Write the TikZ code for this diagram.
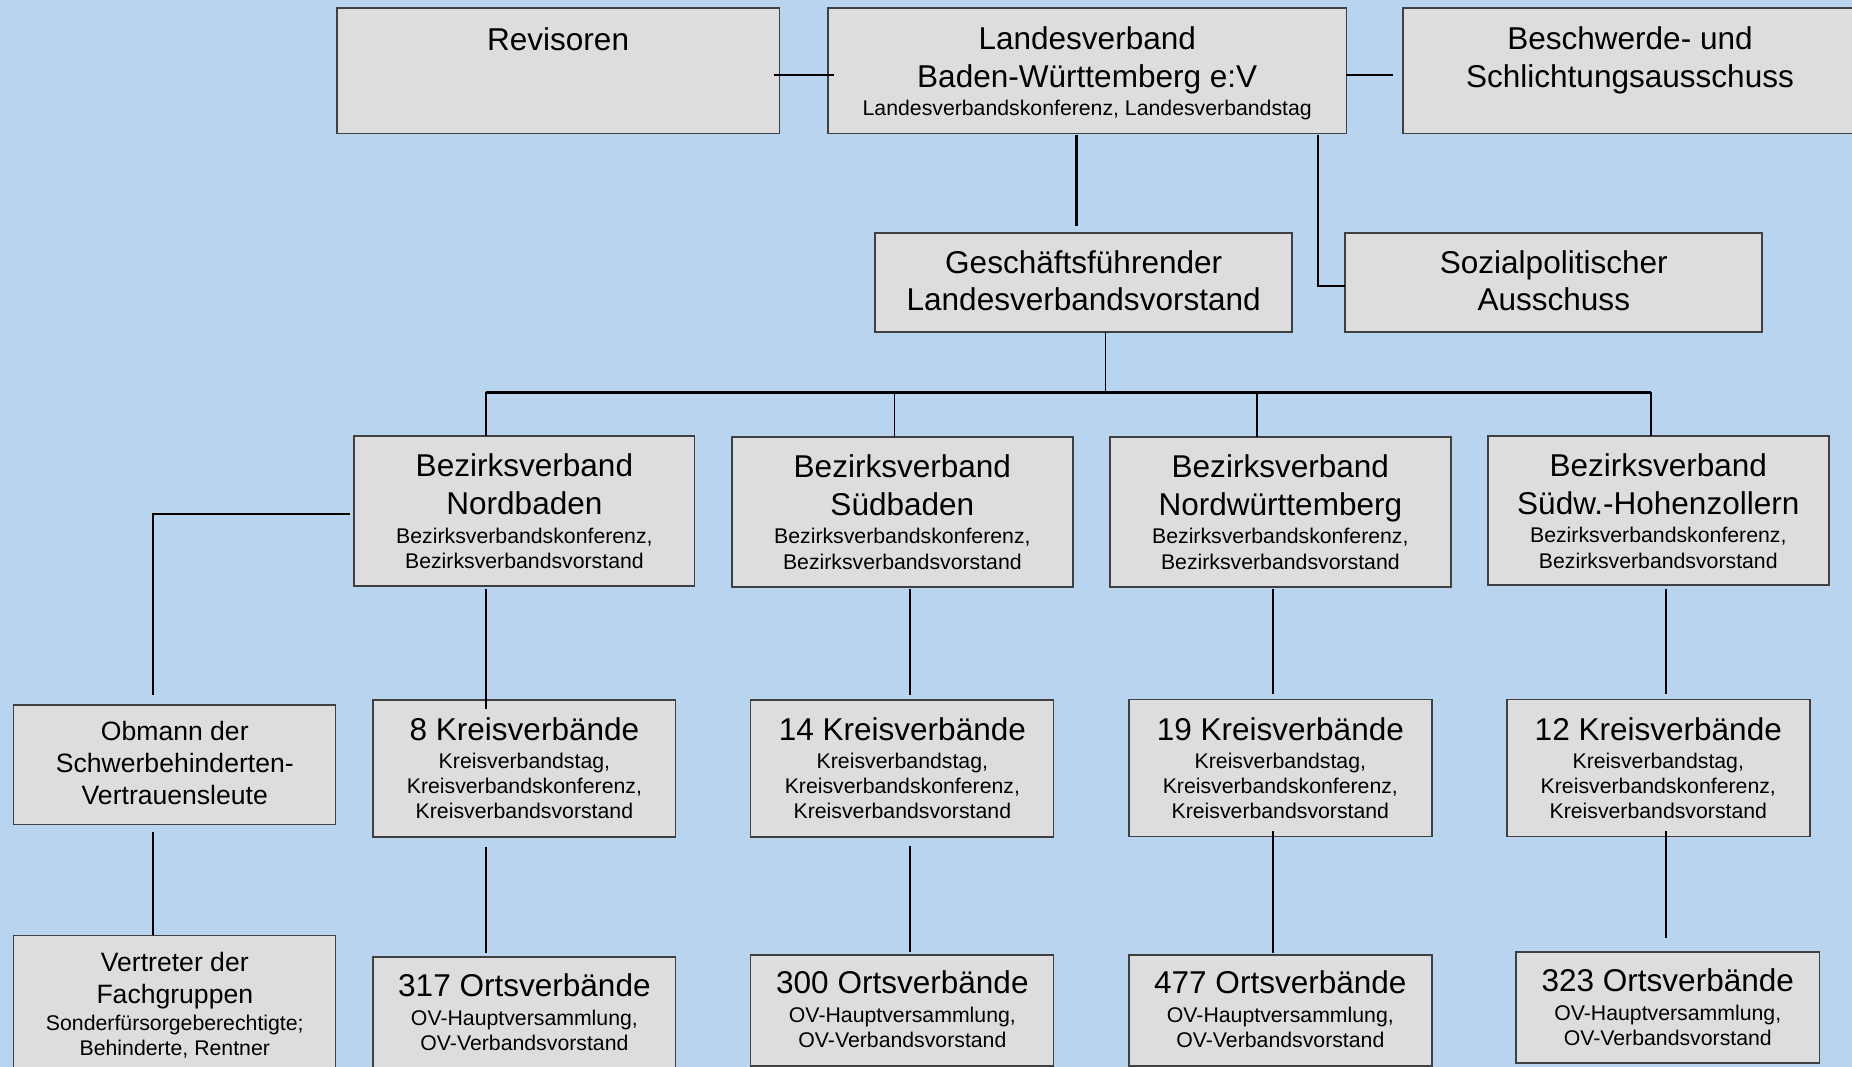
\documentclass[tikz,border=0pt]{standalone}
\usepackage{fontspec}
\setmainfont{Liberation Sans}
\definecolor{bgblue}{HTML}{B9D4EE}
\definecolor{boxfill}{HTML}{DDDDDD}
\definecolor{boxline}{HTML}{404040}
\newcommand\smf{\fontsize{18}{21.5}\selectfont}
\newcommand\mdf{\fontsize{22.5}{27}\selectfont}
\newcommand\bgf{\fontsize{26.7}{32}\selectfont}
\newcommand\fl{\rule{0pt}{20pt}}
\begin{document}
\begin{tikzpicture}[x=1pt,y=-1pt,
  box/.style={draw=boxline, fill=boxfill, line width=1.5pt, rectangle, inner sep=0pt, outer sep=0pt, anchor=north west},
  txt/.style={inner sep=0pt, anchor=north, align=center, font=\bgf, text=black},
  mtxt/.style={txt, font=\mdf},
  conn/.style={line width=1.6pt, black},
  thickconn/.style={line width=2.3pt, black},
  bus/.style={line width=1.9pt, black}]
\useasboundingbox (0,0) rectangle (1568,903);
\clip (0,0) rectangle (1568,903);
\fill[bgblue] (0,0) rectangle (1568,903);

% ---------- boxes ----------
\node[box, minimum width=375pt, minimum height=106pt] (rev) at (285,7) {};
\node[box, minimum width=439pt, minimum height=106pt] (lv) at (701,7) {};
\node[box, minimum width=387pt, minimum height=106pt] (bs) at (1188,7) {};
\node[box, minimum width=353pt, minimum height=84pt] (gf) at (741,197) {};
\node[box, minimum width=353pt, minimum height=84pt] (sp) at (1139,197) {};

\node[box, minimum width=288.5pt, minimum height=127pt] (bnb) at (299.5,369) {};
\node[box, minimum width=288.5pt, minimum height=127pt] (bsb) at (620,370) {};
\node[box, minimum width=288.5pt, minimum height=127pt] (bnw) at (940,370) {};
\node[box, minimum width=288.5pt, minimum height=126pt] (bsh) at (1260,369) {};

\node[box, minimum width=272.5pt, minimum height=101pt] (ob) at (11.5,597) {};
\node[box, minimum width=272.5pt, minimum height=150pt] (vt) at (11.5,792) {};

\node[box, minimum width=256.5pt, minimum height=116pt] (kv8) at (315.5,592.5) {};
\node[box, minimum width=256.5pt, minimum height=116pt] (kv14) at (635.5,592.5) {};
\node[box, minimum width=256.5pt, minimum height=116pt] (kv19) at (955.7,592.3) {};
\node[box, minimum width=256.5pt, minimum height=116pt] (kv12) at (1275.7,592.3) {};

\node[box, minimum width=256.5pt, minimum height=96pt] (ov317) at (315.5,810) {};
\node[box, minimum width=256.5pt, minimum height=94pt] (ov300) at (635.5,808.5) {};
\node[box, minimum width=256.5pt, minimum height=94pt] (ov477) at (955.7,808.5) {};
\node[box, minimum width=257pt, minimum height=94.5pt] (ov323) at (1283.4,805.8) {};

% ---------- texts ----------
\node[txt] (t-rev) at (472.5,22.3) {\fl Revisoren};
\node[txt] (t-lv) at (920.5,21.8) {\fl Landesverband\\Baden-Württemberg e:V\\[-8.5pt]{\smf Landesverbandskonferenz, Landesverbandstag}};
\node[txt] (t-bs) at (1380,21.8) {\fl Beschwerde- und\\Schlichtungsausschuss};
\node[txt] (t-gf) at (917.5,211) {\fl Geschäftsführender\\Landesverbandsvorstand};
\node[txt] (t-sp) at (1315.5,211) {\fl Sozialpolitischer\\Ausschuss};

\node[txt] (t-bnb) at (444,383.6) {\fl Bezirksverband\\Nordbaden\\[-8pt]{\smf Bezirksverbandskonferenz,}\\[-10.3pt]{\smf Bezirksverbandsvorstand}};
\node[txt] (t-bsb) at (764,384.1) {\fl Bezirksverband\\Südbaden\\[-8pt]{\smf Bezirksverbandskonferenz,}\\[-10.3pt]{\smf Bezirksverbandsvorstand}};
\node[txt] (t-bnw) at (1084,384.1) {\fl Bezirksverband\\Nordwürttemberg\\[-8pt]{\smf Bezirksverbandskonferenz,}\\[-10.3pt]{\smf Bezirksverbandsvorstand}};
\node[txt] (t-bsh) at (1404,383.1) {\fl Bezirksverband\\Südw.-Hohenzollern\\[-8pt]{\smf Bezirksverbandskonferenz,}\\[-10.3pt]{\smf Bezirksverbandsvorstand}};

\node[mtxt] (t-ob) at (148,606.5) {\fl Obmann der\\Schwerbehinderten-\\Vertrauensleute};
\node[mtxt] (t-vt) at (148,802.2) {\fl Vertreter der\\Fachgruppen\\[-3.9pt]{\smf Sonderfürsorgeberechtigte;}\\[-5.9pt]{\smf Behinderte, Rentner}};

\node[txt] (t-kv8) at (444,606.5) {\fl 8 Kreisverbände\\[-8pt]{\smf Kreisverbandstag,}\\[-10.8pt]{\smf Kreisverbandskonferenz,}\\[-10.8pt]{\smf Kreisverbandsvorstand}};
\node[txt] (t-kv14) at (764,606.5) {\fl 14 Kreisverbände\\[-8pt]{\smf Kreisverbandstag,}\\[-10.8pt]{\smf Kreisverbandskonferenz,}\\[-10.8pt]{\smf Kreisverbandsvorstand}};
\node[txt] (t-kv19) at (1084,606.5) {\fl 19 Kreisverbände\\[-8pt]{\smf Kreisverbandstag,}\\[-10.8pt]{\smf Kreisverbandskonferenz,}\\[-10.8pt]{\smf Kreisverbandsvorstand}};
\node[txt] (t-kv12) at (1404,606.5) {\fl 12 Kreisverbände\\[-8pt]{\smf Kreisverbandstag,}\\[-10.8pt]{\smf Kreisverbandskonferenz,}\\[-10.8pt]{\smf Kreisverbandsvorstand}};

\node[txt] (t-ov317) at (444,823.3) {\fl 317 Ortsverbände\\[-7.5pt]{\smf OV-Hauptversammlung,}\\[-10.8pt]{\smf OV-Verbandsvorstand}};
\node[txt] (t-ov300) at (764,821.3) {\fl 300 Ortsverbände\\[-7.5pt]{\smf OV-Hauptversammlung,}\\[-10.8pt]{\smf OV-Verbandsvorstand}};
\node[txt] (t-ov477) at (1084,821.1) {\fl 477 Ortsverbände\\[-7.5pt]{\smf OV-Hauptversammlung,}\\[-10.8pt]{\smf OV-Verbandsvorstand}};
\node[txt] (t-ov323) at (1412,819.6) {\fl 323 Ortsverbände\\[-7.5pt]{\smf OV-Hauptversammlung,}\\[-10.8pt]{\smf OV-Verbandsvorstand}};

% ---------- helper coordinates ----------
\coordinate (ytop) at (0,63.5);
\coordinate (ysp) at (0,242);
\coordinate (ybus) at (0,332.2);
\coordinate (ynb) at (0,435.2);
\coordinate (xlg) at (911.5,0);
\coordinate (xsp) at (1115.6,0);
\coordinate (xgf) at (936,0);
\coordinate (xnb) at (411.5,0);
\coordinate (xsb) at (757.3,0);
\coordinate (xnw) at (1064,0);
\coordinate (xsh) at (1398,0);
\coordinate (xsb2) at (770.2,0);
\coordinate (xnw2) at (1077.5,0);
\coordinate (xsh2) at (1410.5,0);
\coordinate (xob) at (129.7,0);

% ---------- connectors ----------
\draw[conn, line width=1.4pt, shorten <=-5pt, shorten >=-5pt] (rev.east |- ytop) -- (lv.west |- ytop);
\draw[conn, line width=1.4pt, shorten >=9pt] (lv.east |- ytop) -- (bs.west |- ytop);
\draw[thickconn, shorten <=1pt, shorten >=6pt] (lv.south -| xlg) -- (gf.north -| xlg);
\draw[conn, line width=1.4pt, shorten <=1pt] (lv.south -| xsp) |- (sp.west |- ysp);

\draw[conn] (gf.south -| xgf) -- (xgf |- ybus);
\draw[bus] (xnb |- ybus) -- (xsh |- ybus);
\draw[conn] (xnb |- ybus) -- (bnb.north -| xnb);
\draw[conn] (xsb |- ybus) -- (bsb.north -| xsb);
\draw[conn] (xnw |- ybus) -- (bnw.north -| xnw);
\draw[conn] (xsh |- ybus) -- (bsh.north -| xsh);

\draw[conn, shorten <=3pt] (bnb.west |- ynb) -| (ob.north -| xob) [shorten >=9pt];
\draw[conn, shorten <=6pt] (ob.south -| xob) -- (vt.north -| xob);

\draw[conn, shorten <=3pt, shorten >=-8pt] (bnb.south -| xnb) -- (kv8.north -| xnb);
\draw[conn, shorten <=2pt, shorten >=4.5pt] (bsb.south -| xsb2) -- (kv14.north -| xsb2);
\draw[conn, shorten <=2pt, shorten >=4.5pt] (bnw.south -| xnw2) -- (kv19.north -| xnw2);
\draw[conn, shorten <=4pt, shorten >=4.5pt] (bsh.south -| xsh2) -- (kv12.north -| xsh2);

\draw[conn, shorten <=8.5pt, shorten >=3.4pt] (kv8.south -| xnb) -- (ov317.north -| xnb);
\draw[conn, shorten <=7.5pt, shorten >=2.5pt] (kv14.south -| xsb2) -- (ov300.north -| xsb2);
\draw[conn, shorten <=-4.4pt, shorten >=2pt] (kv19.south -| xnw2) -- (ov477.north -| xnw2);
\draw[conn, shorten <=-4.4pt, shorten >=12pt] (kv12.south -| xsh2) -- (ov323.north -| xsh2);
\end{tikzpicture}
\end{document}
